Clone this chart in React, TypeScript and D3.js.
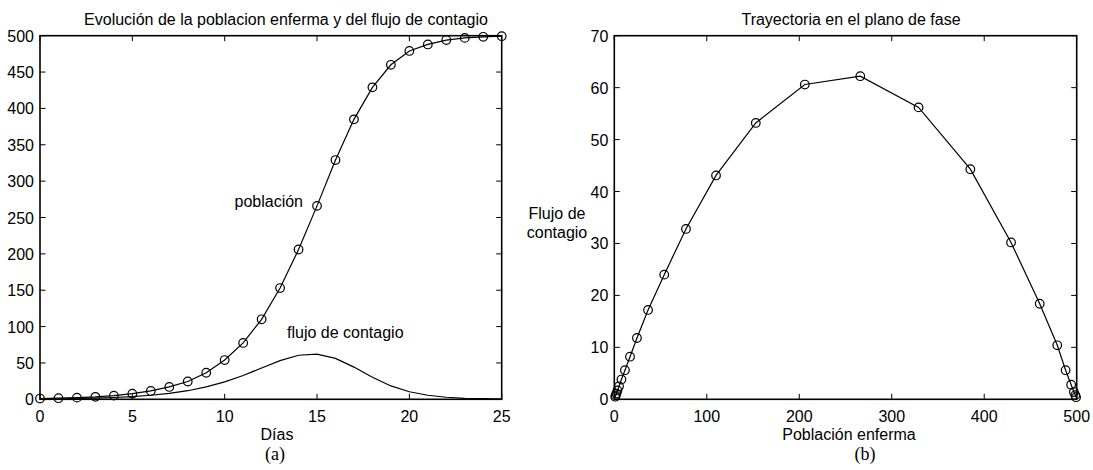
import React from "react";
import * as d3 from "d3";

// ---- Data ----
const days: number[] = [0, 1, 2, 3, 4, 5, 6, 7, 8, 9, 10, 11, 12, 13, 14, 15, 16, 17, 18, 19, 20, 21, 22, 23, 24, 25];
const poblacion: number[] = [1, 1.5, 2.3, 3.4, 5.1, 7.7, 11.5, 17, 24.5, 36.5, 54, 77.5, 110, 153, 206, 266, 329, 385, 429, 460, 479, 488, 494, 497, 498.5, 499.3];
const flujo: number[] = [0.5, 0.75, 1.1, 1.7, 2.5, 3.8, 5.6, 8.2, 11.8, 17.2, 24, 32.8, 43.1, 53.2, 60.6, 62.2, 56.2, 44.3, 30.2, 18.4, 10.4, 5.6, 2.8, 1.4, 0.8, 0.4];

const xTicksA: number[] = [0, 5, 10, 15, 20, 25];
const yTicksA: number[] = [0, 50, 100, 150, 200, 250, 300, 350, 400, 450, 500];
const xTicksB: number[] = [0, 100, 200, 300, 400, 500];
const yTicksB: number[] = [0, 10, 20, 30, 40, 50, 60, 70];

const titleA = "Evolución de la poblacion enferma y del flujo de contagio";
const titleB = "Trayectoria en el plano de fase";

const SANS = "'Liberation Sans', Arial, sans-serif";
const SERIF = "'Liberation Serif', 'Times New Roman', serif";
const TICK = 5.5;
const R = 4.3;
const FS = 16;

type AxesProps = {
  x: d3.ScaleLinear<number, number>;
  y: d3.ScaleLinear<number, number>;
  xt: number[];
  yt: number[];
};

function Axes({ x, y, xt, yt }: AxesProps) {
  const [x0, x1] = x.range();
  const [y0, y1] = y.range();
  return (
    <g>
      {xt.map((t) => (
        <g key={"x" + t}>
          <line x1={x(t)} x2={x(t)} y1={y0} y2={y0 - TICK} stroke="#000" strokeWidth={1} />
          <line x1={x(t)} x2={x(t)} y1={y1} y2={y1 + TICK} stroke="#000" strokeWidth={1} />
          <text x={x(t)} y={y0 + 23} textAnchor="middle" fontSize={FS} fontFamily={SANS}>{t}</text>
        </g>
      ))}
      {yt.map((t) => (
        <g key={"y" + t}>
          <line x1={x0} x2={x0 + TICK} y1={y(t)} y2={y(t)} stroke="#000" strokeWidth={1} />
          <line x1={x1} x2={x1 - TICK} y1={y(t)} y2={y(t)} stroke="#000" strokeWidth={1} />
          <text x={x0 - 6} y={y(t) + 6} textAnchor="end" fontSize={FS} fontFamily={SANS}>{t}</text>
        </g>
      ))}
      <rect x={x0} y={y1} width={x1 - x0} height={y0 - y1} fill="none" stroke="#000" strokeWidth={1.6} />
    </g>
  );
}

export default function App() {
  // Panel (a)
  const xA = d3.scaleLinear().domain([0, 25]).range([40, 501.7]);
  const yA = d3.scaleLinear().domain([0, 500]).range([399.3, 35.7]);
  // Panel (b)
  const xB = d3.scaleLinear().domain([0, 500]).range([614.3, 1076.7]);
  const yB = d3.scaleLinear().domain([0, 70]).range([399.3, 35.7]);

  const lineA = d3.line<number>().x((_, i) => xA(days[i])).y((d) => yA(d));
  const lineB = d3.line<number>().x((_, i) => xB(poblacion[i])).y((d) => yB(d));

  return (
    <svg width={1093} height={470} style={{ position: "absolute", left: 0, top: 0, background: "#fff" }}>
      <rect x={0} y={0} width={1093} height={470} fill="#fff" />
      {/* Panel (a) */}
      <text x={286} y={25} textAnchor="middle" fontSize={FS} fontFamily={SANS}>{titleA}</text>
      <path d={lineA(flujo) || ""} fill="none" stroke="#000" strokeWidth={1.2} />
      <path d={lineA(poblacion) || ""} fill="none" stroke="#000" strokeWidth={1.2} />
      {poblacion.map((p, i) => (
        <circle key={"pa" + i} cx={xA(days[i])} cy={yA(p)} r={R} fill="none" stroke="#000" strokeWidth={1.2} />
      ))}
      <Axes x={xA} y={yA} xt={xTicksA} yt={yTicksA} />
      <text x={303} y={207} textAnchor="end" fontSize={FS} fontFamily={SANS}>población</text>
      <text x={287} y={338} textAnchor="start" fontSize={FS} fontFamily={SANS}>flujo de contagio</text>
      <text x={277} y={440} textAnchor="middle" fontSize={FS} fontFamily={SANS}>Días</text>
      <text x={275} y={460} textAnchor="middle" fontSize={18} fontFamily={SERIF}>(a)</text>

      {/* Panel (b) */}
      <text x={851} y={25} textAnchor="middle" fontSize={FS} fontFamily={SANS}>{titleB}</text>
      <path d={lineB(flujo) || ""} fill="none" stroke="#000" strokeWidth={1.2} />
      {flujo.map((f, i) => (
        <circle key={"pb" + i} cx={xB(poblacion[i])} cy={yB(f)} r={R} fill="none" stroke="#000" strokeWidth={1.2} />
      ))}
      <Axes x={xB} y={yB} xt={xTicksB} yt={yTicksB} />
      <text x={557} y={219} textAnchor="middle" fontSize={FS} fontFamily={SANS}>Flujo de</text>
      <text x={557} y={238} textAnchor="middle" fontSize={FS} fontFamily={SANS}>contagio</text>
      <text x={849} y={440} textAnchor="middle" fontSize={FS} fontFamily={SANS}>Población enferma</text>
      <text x={865} y={460} textAnchor="middle" fontSize={18} fontFamily={SERIF}>(b)</text>
    </svg>
  );
}
